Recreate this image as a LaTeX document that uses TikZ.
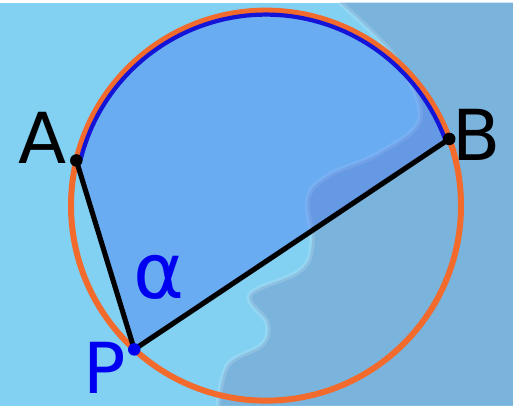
\documentclass[tikz,border=0pt]{standalone}
\usepackage{fontspec}
\setmainfont{DejaVu Sans}
\usepackage{tikz}
\usetikzlibrary{calc}
\definecolor{skyc}{HTML}{82D0F2}
\definecolor{shadec}{HTML}{7AB4DC}
\definecolor{ringc}{HTML}{F26A2C}
\definecolor{arcc}{HTML}{1414D8}
\definecolor{areac}{HTML}{3C64F5}
\definecolor{ptc}{HTML}{0000F0}

\begin{document}
\begin{tikzpicture}[lbl/.style={inner sep=0pt, font=\fontsize{40}{48}\selectfont},
  side/.style={line width=2.9pt, black}, dot/.style={circle, fill, inner sep=0pt, minimum size=0.25cm}]
  % background
  \fill[skyc] (0,0) rectangle (10.26,8.06);
  \fill[shadec] plot[smooth, tension=0.6] coordinates {(6.8,8.06) (7.9,6.96) (8.4,5.76) (7.6,5.06) (6.6,4.62)
    (6.16,4.16) (6.24,3.26) (6.0,2.70) (5.0,2.22) (5.34,1.66) (5.24,1.22) (4.56,0.82) (4.36,0)}
    -- (10.26,0) -- (10.26,8.06) -- cycle;
  \draw[white, opacity=0.15, line width=3pt] plot[smooth, tension=0.6] coordinates {(6.8,8.06) (7.9,6.96) (8.4,5.76)
    (7.6,5.06) (6.6,4.62) (6.16,4.16) (6.24,3.26) (6.0,2.70) (5.0,2.22) (5.34,1.66) (5.24,1.22) (4.56,0.82) (4.36,0)};
  \useasboundingbox (0,0) rectangle (10.26,8.06);
  \coordinate (O) at (5.32,4.00);
  \coordinate (A) at ($(O)+(166.6:3.9)$);
  \coordinate (B) at ($(O)+(20:3.9)$);
  \coordinate (P) at ($(O)+(227.5:3.9)$);
  \fill[areac, opacity=0.33] (P) -- (A) arc[start angle=166.6, end angle=20, radius=3.9] -- cycle;
  \draw[ringc, line width=3.4pt] (O) circle[radius=3.9];
  \draw[arcc, line width=2.4pt] ($(O)+(166:3.82)$) arc[start angle=166, end angle=20.5, radius=3.82];
  \draw[side] (A) -- (P) -- (B);
  \node[dot, black] (dA) at (A) {};
  \node[dot, black] (dB) at (B) {};
  \node[dot, ptc] (dP) at (P) {};
  \node[lbl] (lblA) at (0.86,5.36) {A};
  \node[lbl] (lblB) at (9.54,5.42) {B};
  \node[lbl, ptc] (lblP) at (2.10,0.76) {P};
  \node[lbl, ptc, font=\fontsize{44}{52}\selectfont] (lblAlpha) at (3.18,2.56) {α};
\end{tikzpicture}
\end{document}
